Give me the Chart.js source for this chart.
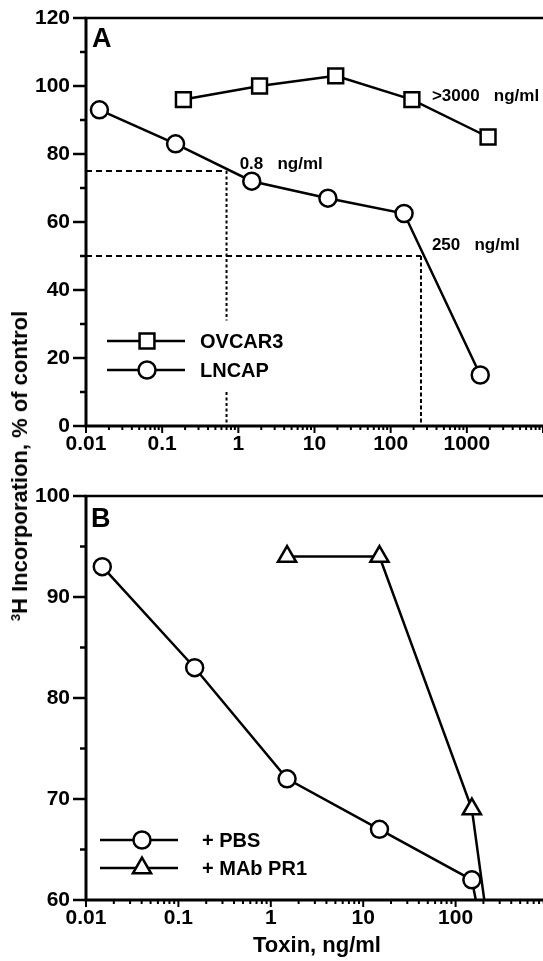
<!DOCTYPE html>
<html>
<head>
<meta charset="utf-8">
<script src="https://cdn.jsdelivr.net/npm/chart.js@4.4.1/dist/chart.umd.min.js"></script>
<style>
  html, body { margin: 0; padding: 0; background: #fff; width: 543px; height: 961px; overflow: hidden; position: relative; }
  canvas { position: absolute; left: 0; }
  #chartA { top: 0; }
  #chartB { top: 470px; }
  #ytitle {
    position: absolute; left: 20px; top: 466px;
    transform: translate(-50%, -50%) rotate(-90deg);
    white-space: nowrap;
    font: bold 22px "Liberation Sans", Arial, sans-serif;
    color: #000;
  }
  #ytitle sup { font-size: 13px; vertical-align: 7px; line-height: 0; }
</style>
</head>
<body>
<canvas id="chartA" width="556" height="462"></canvas>
<canvas id="chartB" width="561" height="491"></canvas>
<div id="ytitle"><sup>3</sup>H Incorporation, % of control</div>
<script>
// panel A
const ovcarX = [0.19, 1.9, 19, 190, 1900];
const ovcarY = [96, 100, 103, 96, 85];
const lncapX = [0.015, 0.15, 1.5, 15, 150, 1500];
const lncapY = [93, 83, 72, 67, 62.5, 15];

// panel B
const pbsX = [0.015, 0.15, 1.5, 15, 150, 1500];
const pbsY = [93, 83, 72, 67, 62, 15];
const mabX = [1.5, 15, 150, 1500];
const mabY = [94, 94, 69, 2];

// tick labels
const xLabelsA = [0.01, 0.1, 1, 10, 100, 1000];
const xLabelsB = [0.01, 0.1, 1, 10, 100];
const yLabelsA = [0, 20, 40, 60, 80, 100, 120];
const yLabelsB = [60, 70, 80, 90, 100];

// doses (at 75% and 50%)
const dose75 = 0.7;
const dose50 = 250;

const FONT = '"Liberation Sans", Arial, sans-serif';
Chart.defaults.font.family = FONT;
Chart.defaults.color = '#000';

function isDecade(v) {
  const l = Math.log10(v);
  return Math.abs(l - Math.round(l)) < 1e-6;
}

// 1..9 x 10^n ticks for the log axis
function logTicks(min, max) {
  const out = [];
  for (let e = Math.floor(Math.log10(min)); e <= Math.ceil(Math.log10(max)); e++) {
    for (let k = 1; k <= 9; k++) {
      const v = Number((k * Math.pow(10, e)).toPrecision(6));
      if (v >= min && v <= max) out.push({ value: v });
    }
  }
  return out;
}

function labelFor(v, list) {
  const hit = list.find(l => Math.abs(l - v) / l < 1e-6);
  return hit === undefined ? '' : String(hit);
}

function points(xs, ys) {
  return xs.map((x, i) => ({ x: x, y: ys[i] }));
}

function series(label, xs, ys, style, radius) {
  return {
    label: label,
    data: points(xs, ys),
    borderColor: '#000',
    borderWidth: 2.5,
    pointStyle: style,
    pointRadius: radius,
    pointBorderWidth: 2.5,
    pointBackgroundColor: '#fff',
    pointBorderColor: '#000',
    tension: 0
  };
}

function guide(pts, dash) {
  return {
    label: '',
    data: pts,
    borderColor: '#000',
    borderWidth: 2,
    borderDash: dash,
    pointRadius: 0,
    tension: 0
  };
}

// axes, tick marks, legend, notes and panel letter
const panelPlugin = {
  id: 'panel',
  afterDraw(chart, args, o) {
    const { ctx, chartArea: a } = chart;
    const x = chart.scales.x, y = chart.scales.y;
    ctx.save();
    ctx.strokeStyle = '#000';
    ctx.fillStyle = '#000';
    ctx.setLineDash([]);

    ctx.lineWidth = 2.5;
    ctx.beginPath();
    ctx.moveTo(a.left - 1.5, a.top);
    ctx.lineTo(a.right, a.top);
    ctx.stroke();

    ctx.lineWidth = 3;
    ctx.beginPath();
    ctx.moveTo(a.left, a.top);
    ctx.lineTo(a.left, a.bottom + 1.5);
    ctx.moveTo(a.left - 1.5, a.bottom);
    ctx.lineTo(a.right, a.bottom);
    ctx.stroke();

    ctx.lineWidth = 2;
    x.ticks.forEach(t => {
      const px = x.getPixelForValue(t.value);
      const len = isDecade(t.value) ? 7 : 4;
      ctx.beginPath();
      ctx.moveTo(px, a.bottom);
      ctx.lineTo(px, a.bottom + len);
      ctx.stroke();
    });
    ctx.lineWidth = 2.5;
    y.ticks.forEach(t => {
      const py = y.getPixelForValue(t.value);
      const len = t.value % o.yMajor === 0 ? 13 : 6;
      ctx.beginPath();
      ctx.moveTo(a.left, py);
      ctx.lineTo(a.left - len, py);
      ctx.stroke();
    });

    // legend
    const lg = o.legend;
    ctx.font = 'bold 20px ' + FONT;
    ctx.textAlign = 'left';
    ctx.textBaseline = 'middle';
    lg.items.forEach((idx, i) => {
      const ds = chart.data.datasets[idx];
      const cy = a.top + lg.rows[i];
      ctx.lineWidth = ds.borderWidth;
      ctx.beginPath();
      ctx.moveTo(a.left + lg.x0, cy);
      ctx.lineTo(a.left + lg.x1, cy);
      ctx.stroke();
      ctx.fillStyle = '#fff';
      ctx.lineWidth = ds.pointBorderWidth;
      Chart.helpers.drawPoint(ctx, { pointStyle: ds.pointStyle, radius: ds.pointRadius, borderWidth: ds.pointBorderWidth, rotation: 0 }, a.left + lg.mx, cy);
      ctx.fillStyle = '#000';
      ctx.fillText(ds.label, a.left + lg.tx, cy + 1);
    });

    ctx.font = 'bold 17px ' + FONT;
    o.notes.forEach(n => {
      ctx.fillText(n.text, x.getPixelForValue(n.x), y.getPixelForValue(n.y));
    });

    ctx.font = 'bold 27px ' + FONT;
    ctx.fillText(o.letter.text, a.left + o.letter.dx, a.top + o.letter.dy);
    ctx.restore();
  }
};

function panelOptions(cfg) {
  return {
    responsive: false,
    animation: false,
    layout: { padding: { top: cfg.top, left: 0, right: 0, bottom: 0 } },
    plugins: {
      legend: { display: false },
      tooltip: { enabled: false },
      panel: cfg.panel
    },
    scales: {
      x: {
        type: 'logarithmic',
        min: 0.01,
        max: cfg.xMax,
        border: { display: false },
        grid: { drawOnChartArea: false, drawTicks: true, tickLength: 6, tickColor: 'rgba(0,0,0,0)', color: 'rgba(0,0,0,0)' },
        afterBuildTicks: s => { s.ticks = logTicks(0.01, cfg.xMax); },
        afterFit: s => { s.height = cfg.xHeight; },
        ticks: {
          autoSkip: false, maxRotation: 0, minRotation: 0, padding: 0,
          font: { size: 21, weight: 'bold' }, color: '#000',
          callback: v => labelFor(v, cfg.xLabels)
        },
        title: cfg.xTitle || { display: false }
      },
      y: {
        min: cfg.yMin,
        max: cfg.yMax,
        border: { display: false },
        grid: { drawOnChartArea: false, drawTicks: true, tickLength: 12, tickColor: 'rgba(0,0,0,0)', color: 'rgba(0,0,0,0)' },
        afterFit: s => { s.width = 86; },
        ticks: {
          stepSize: cfg.yStep, padding: 4,
          font: { size: 21, weight: 'bold' }, color: '#000',
          callback: v => cfg.yLabels.includes(v) ? String(v) : ''
        }
      }
    }
  };
}

new Chart(document.getElementById('chartA'), {
  type: 'line',
  data: {
    datasets: [
      series('OVCAR3', ovcarX, ovcarY, 'rect', 10.5),
      series('LNCAP', lncapX, lncapY, 'circle', 8.5),
      guide([{ x: 0.01, y: 75 }, { x: dose75, y: 75 }], [6, 4]),
      guide([{ x: dose75, y: 75 }, { x: dose75, y: 31 }], [3, 2.5]),
      guide([{ x: dose75, y: 10 }, { x: dose75, y: 0 }], [3, 2.5]),
      guide([{ x: 0.01, y: 50 }, { x: dose50, y: 50 }], [6, 4]),
      guide([{ x: dose50, y: 50 }, { x: dose50, y: 0 }], [4, 2.5])
    ]
  },
  options: panelOptions({
    top: 18, xMax: 10000, xHeight: 36, xLabels: xLabelsA,
    yMin: 0, yMax: 120, yStep: 10, yLabels: yLabelsA,
    panel: {
      yMajor: 20,
      legend: { items: [0, 1], x0: 21, x1: 99, mx: 61, tx: 114, rows: [323, 352] },
      notes: [
        { x: 1.04, y: 77, text: '0.8   ng/ml' },
        { x: 348, y: 97, text: '>3000   ng/ml' },
        { x: 348, y: 53, text: '250   ng/ml' }
      ],
      letter: { text: 'A', dx: 6, dy: 22 }
    }
  }),
  plugins: [panelPlugin]
});

new Chart(document.getElementById('chartB'), {
  type: 'line',
  data: {
    datasets: [
      series('+ PBS', pbsX, pbsY, 'circle', 8.5),
      series('+ MAb PR1', mabX, mabY, 'triangle', 10.5)
    ]
  },
  options: panelOptions({
    top: 26, xMax: 1000, xHeight: 61, xLabels: xLabelsB,
    xTitle: { display: true, text: 'Toxin, ng/ml', font: { size: 22, weight: 'bold' }, color: '#000', padding: { top: 0, bottom: 2 } },
    yMin: 60, yMax: 100, yStep: 5, yLabels: yLabelsB,
    panel: {
      yMajor: 10,
      legend: { items: [0, 1], x0: 14, x1: 92, mx: 56, tx: 116, rows: [344, 372] },
      notes: [],
      letter: { text: 'B', dx: 5, dy: 24 }
    }
  }),
  plugins: [panelPlugin]
});
</script>
</body>
</html>
